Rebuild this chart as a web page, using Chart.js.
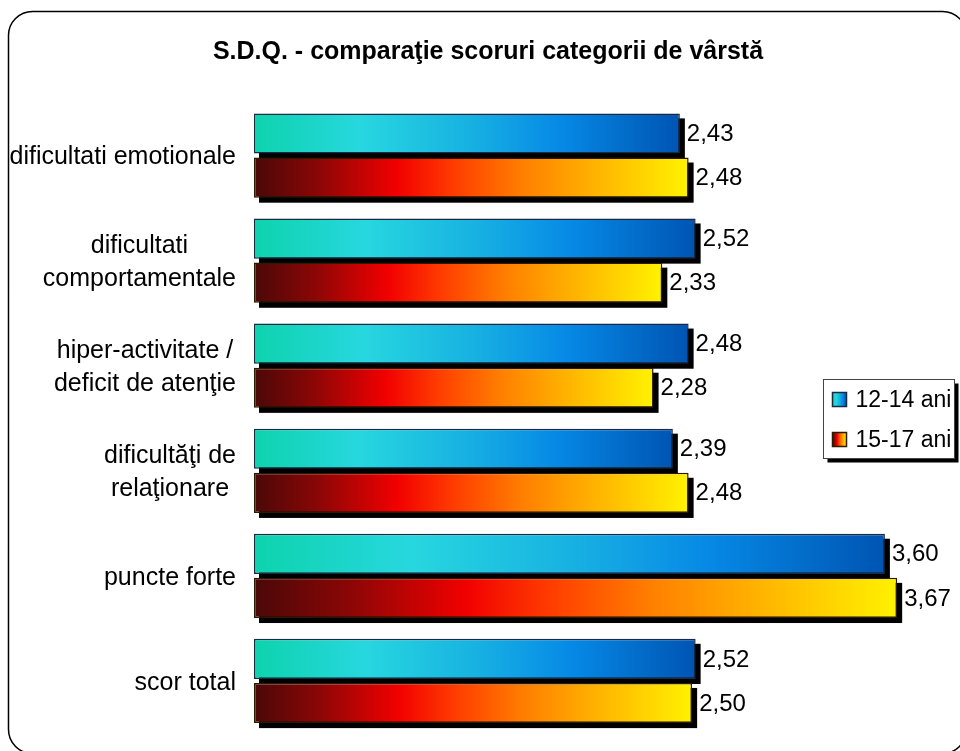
<!DOCTYPE html>
<html>
<head>
<meta charset="utf-8">
<script src="https://cdn.jsdelivr.net/npm/chart.js@4"></script>
<style>
  html, body { margin: 0; padding: 0; background: #fff; }
  #wrap { width: 960px; height: 751px; position: relative; }
</style>
</head>
<body>
<div id="wrap"><canvas id="c" width="960" height="751"></canvas></div>
<script>
// Categories (multi-line labels as arrays) and the two age-group series
const categories = [
  ["dificultati emotionale"],
  ["dificultati", "comportamentale"],
  ["hiper-activitate /", "deficit de atenţie"],
  ["dificultăţi de", "relaţionare"],
  ["puncte forte"],
  ["scor total"]
];
const seriesNames = ["12-14 ani", "15-17 ani"];
const values1214 = [2.43, 2.52, 2.48, 2.39, 3.60, 2.52];
const values1517 = [2.48, 2.33, 2.28, 2.48, 3.67, 2.50];
const chartTitle = "S.D.Q. - comparaţie scoruri categorii de vârstă";
const axisMin = 0;
const axisMax = 4;

const FONT = 'Arial, "Liberation Sans", sans-serif';

// colour ramps running along each bar
const blueStops = [[0, '#0dd3ad'], [0.25, '#27d7df'], [0.5, '#18b2e2'], [0.72, '#0689e6'], [1, '#0054b2']];
const redStops = [[0, '#4a0808'], [0.15, '#8c0606'], [0.33, '#f20000'], [0.46, '#ff3c00'], [0.62, '#ff8000'], [0.8, '#ffb800'], [1, '#fff200']];

function makeGradient(c, stops, xA, yA, xB, yB) {
  const g = c.createLinearGradient(xA, yA, xB, yB);
  stops.forEach(s => g.addColorStop(s[0], s[1]));
  return g;
}

function barGradient(stops) {
  return (ctx) => {
    const chart = ctx.chart;
    const xs = chart.scales && chart.scales.x;
    if (!chart.chartArea || !xs || ctx.raw == null) return stops[stops.length - 1][1];
    const x0 = xs.getPixelForValue(axisMin);
    const x1 = xs.getPixelForValue(ctx.raw);
    if (!isFinite(x0) || !isFinite(x1) || x1 === x0) return stops[stops.length - 1][1];
    return makeGradient(chart.ctx, stops, x0, 0, x1, 0);
  };
}

const fmt = v => v.toFixed(2).replace('.', ',');

// rounded outer frame
const framePlugin = {
  id: 'frame',
  beforeDraw(chart) {
    const c = chart.ctx;
    c.save();
    c.fillStyle = '#fff';
    c.fillRect(0, 0, chart.width, chart.height);
    c.beginPath();
    c.roundRect(8.5, 11.5, 958, 742, 24);
    c.lineWidth = 1.5;
    c.strokeStyle = '#000';
    c.stroke();
    c.restore();
  }
};

// hard black drop shadow under each bar, taken from the bar elements' geometry
const shadowPlugin = {
  id: 'barShadow',
  beforeDatasetsDraw(chart) {
    const c = chart.ctx;
    c.save();
    c.fillStyle = '#000';
    chart.data.datasets.forEach((ds, di) => {
      chart.getDatasetMeta(di).data.forEach(el => {
        const p = el.getProps(['x', 'y', 'base', 'height'], true);
        c.fillRect(p.base + 5, p.y - p.height / 2 + 5, p.x - p.base, p.height);
      });
    });
    c.restore();
  }
};

// value labels, category labels and legend box
const labelsPlugin = {
  id: 'labels',
  afterDraw(chart) {
    const c = chart.ctx;
    c.save();
    // values at the bar ends
    c.font = '24px ' + FONT;
    c.fillStyle = '#000';
    c.textAlign = 'left';
    c.textBaseline = 'middle';
    chart.data.datasets.forEach((ds, di) => {
      chart.getDatasetMeta(di).data.forEach((el, i) => {
        c.fillText(fmt(ds.data[i]), el.x + 7, el.y + 1);
      });
    });

    // category names, lines centred within a right-aligned block
    const ys = chart.scales.y;
    const rightEdge = 236;
    const lh = 33;
    c.font = '25px ' + FONT;
    c.textAlign = 'center';
    chart.data.labels.forEach((lines, i) => {
      const yc = ys.getPixelForValue(i) + 2;
      const w = Math.max(...lines.map(l => c.measureText(l).width));
      const cx = rightEdge - w / 2;
      const top = yc - (lines.length - 1) * lh / 2;
      lines.forEach((l, k) => c.fillText(l, cx, top + k * lh));
    });

    // legend
    const lx = 823.5, ly = 379.5, lw = 131, lh2 = 79;
    c.fillStyle = '#000';
    c.fillRect(lx + 4, ly + 4, lw, lh2);
    c.fillStyle = '#fff';
    c.fillRect(lx, ly, lw, lh2);
    c.strokeStyle = '#444';
    c.lineWidth = 1;
    c.strokeRect(lx, ly, lw, lh2);
    const rampSets = [blueStops, redStops];
    const borders = ['#1b2a40', '#2a1a00'];
    c.font = '23px ' + FONT;
    c.textAlign = 'left';
    c.textBaseline = 'middle';
    chart.data.datasets.forEach((ds, di) => {
      const iy = ly + 13 + di * 40;
      const ix = lx + 9;
      c.fillStyle = makeGradient(c, rampSets[di], ix, 0, ix + 14, 0);
      c.fillRect(ix, iy, 14, 14);
      c.strokeStyle = borders[di];
      c.lineWidth = 1.5;
      c.strokeRect(ix, iy, 14, 14);
      c.fillStyle = '#000';
      c.fillText(ds.label, lx + 32, iy + 8);
    });
    c.restore();
  }
};

new Chart(document.getElementById('c'), {
  type: 'bar',
  data: {
    labels: categories,
    datasets: [
      {
        label: seriesNames[0],
        data: values1214,
        backgroundColor: barGradient(blueStops),
        borderColor: '#1b2a40',
        borderWidth: 1.5,
        borderSkipped: false,
        categoryPercentage: 0.84,
        barPercentage: 0.91
      },
      {
        label: seriesNames[1],
        data: values1517,
        backgroundColor: barGradient(redStops),
        borderColor: '#2a1a00',
        borderWidth: 1.5,
        borderSkipped: false,
        categoryPercentage: 0.84,
        barPercentage: 0.91
      }
    ]
  },
  options: {
    indexAxis: 'y',
    responsive: false,
    animation: false,
    devicePixelRatio: 1,
    layout: { padding: { left: 21, right: 5, top: 37, bottom: 17.5 } },
    plugins: {
      legend: { display: false },
      tooltip: { enabled: false },
      title: {
        display: true,
        text: chartTitle,
        color: '#000',
        font: { family: FONT, size: 25, weight: 'bold', lineHeight: 1.2 },
        padding: { top: 0, bottom: 36 }
      }
    },
    scales: {
      x: {
        display: false,
        min: axisMin,
        max: axisMax
      },
      y: {
        display: true,
        grid: { display: false, drawTicks: false },
        border: { display: false },
        ticks: { display: false },
        afterFit(scale) { scale.width = 233; }
      }
    }
  },
  plugins: [framePlugin, shadowPlugin, labelsPlugin]
});
</script>
</body>
</html>
